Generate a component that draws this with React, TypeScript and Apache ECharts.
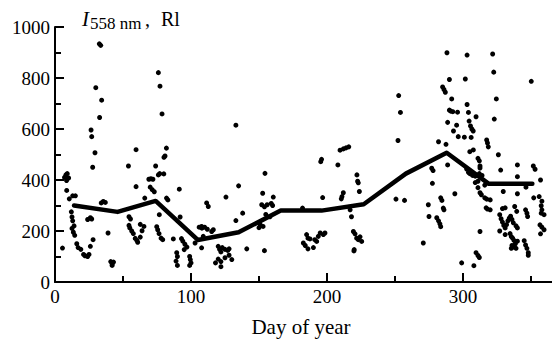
import React, { useEffect, useRef } from "react";
import * as echarts from "echarts";

// Monthly mean curve (day of year, intensity in Rl)
const meanDays = [14, 46, 74, 105, 135, 166, 196, 227, 258, 288, 319, 351];
const meanValues = [300, 275, 318, 165, 195, 280, 280, 305, 425, 507, 385, 385];

// Individual observations [day, value]
const obsWinter: [number, number][] = [
  [5.5, 133], [7, 410], [8, 420], [9, 425], [10, 408], [8.5, 398], [8.6, 359], [10.5, 326], [15, 338], [13, 338],
  [12, 275], [12.5, 255], [13, 240], [14, 220], [12.5, 210], [13.5, 195], [14.5, 183], [16, 150], [17, 135], [19, 128],
  [21, 108], [22, 103], [24, 100], [25, 108], [26, 140], [28, 166], [24, 245], [26, 252], [27, 247], [29.4, 507],
  [27.7, 450], [30, 762], [32.6, 934], [33.6, 928], [34.3, 713], [32.8, 645], [26.5, 596], [27, 570], [35.5, 316], [34, 310],
  [37, 312], [39, 192], [41, 80], [42, 72], [43, 78], [42, 65], [54, 455], [59.6, 519], [59.6, 374], [54.4, 256],
  [55.5, 247], [54.4, 222], [55, 212], [56.4, 200], [57.6, 190], [59, 171], [60.2, 163], [60.8, 156], [62.7, 176], [64, 201],
  [65.4, 218], [62.7, 226],
];
const obsSpring: [number, number][] = [
  [66, 329], [69, 403], [70.5, 405], [72, 403], [70, 372], [71.5, 362], [73, 354], [74, 455], [76, 420], [77, 425],
  [76, 821], [77.2, 768], [78.7, 659], [81.9, 525], [80.9, 494], [80.1, 489], [80, 424], [76.7, 264], [74.8, 217], [75.5, 205],
  [76.5, 190], [78, 172], [79.2, 166], [82, 329], [83, 322], [87, 169], [91.4, 364], [89.5, 115], [90, 100], [89, 82],
  [90, 65], [92, 255], [93, 170], [94, 160], [95.5, 148], [97, 137], [95, 127], [99, 100], [99.5, 88], [100, 75],
  [99, 65], [103, 153], [106, 215], [108, 211], [110, 215], [112, 207], [116.4, 205], [115.2, 198], [107.8, 218], [107.8, 134],
  [109, 179], [111.5, 310], [112.7, 296], [120, 90], [120, 140], [121, 128], [122, 118], [123, 135], [125, 128], [127, 124],
  [128, 130], [122, 80], [118, 75], [122, 60], [125, 95], [128, 105], [130, 88],
];
const obsSummer: [number, number][] = [
  [133, 615], [133, 241], [135, 377], [138, 270], [141, 130], [125.7, 333], [152.7, 348], [154.4, 426], [154, 123], [160.5, 333],
  [152, 303], [154, 295], [156, 303], [159, 308], [160, 300], [155, 265], [158, 256], [151, 224], [150, 213], [153, 218],
  [182, 290], [185, 186], [186, 172], [182.6, 153], [184, 143], [187.5, 169], [191, 166], [192.4, 159], [195, 192], [197.3, 186],
  [198.5, 192], [193.6, 179], [190, 135], [186, 130], [195.4, 472], [196, 481], [196.8, 331], [208, 459], [209.6, 517], [212, 522],
  [214, 526], [216, 530], [212, 350], [211, 335], [210.5, 326], [222, 420], [222.5, 395], [223, 389], [223.8, 355], [217, 283],
  [218, 256], [219.4, 198], [220.6, 189], [221.8, 172], [223, 166], [224.3, 177], [225.5, 159], [220, 127], [219.8, 122],
];
const obsAutumn: [number, number][] = [
  [252.7, 731], [254, 665], [252.2, 555], [250.7, 325], [257, 320], [270.8, 153], [274.5, 303], [275, 257], [277, 446], [278, 437],
  [277.5, 387], [280.7, 252], [282, 240], [283, 228], [283.6, 217], [283.6, 330], [284.5, 320], [285.5, 290], [286, 283], [282, 550],
  [287.5, 540], [285, 765], [286, 755], [287, 744], [288.2, 899], [288.7, 626], [288.7, 459], [290, 794], [290, 674], [291, 670],
  [292.5, 668], [296, 666], [291.7, 718], [293, 592], [294, 346], [295.3, 615], [296.5, 570], [299, 75], [301.7, 796], [303, 890],
  [303, 696], [304, 665], [304.5, 631], [305.5, 612], [306.5, 600], [307.5, 592], [301, 568], [306, 567], [305, 511], [307.6, 518],
  [308, 64], [309.6, 648], [309.6, 115], [311, 104], [312, 96], [311, 485], [312, 475], [312.5, 455], [312.5, 447], [302.7, 443],
  [304, 430], [305, 425], [307, 418], [309, 415], [312, 425], [314, 418], [311, 395], [309, 390], [311, 370], [316, 380],
  [312.5, 350], [313.5, 342], [316, 330], [317.5, 325], [320, 322], [312.5, 198], [317, 291], [318, 286], [320, 283], [317.4, 557],
  [318, 545], [318.6, 530], [321.8, 894], [322.6, 823], [323, 639], [324.5, 718], [326, 499], [327.7, 439], [329.6, 355], [327, 200],
  [331, 186], [327, 264], [328, 248], [329, 235], [330, 222], [331, 212], [332, 225], [333, 240], [334, 250], [335, 258],
  [336, 245], [337, 232], [339, 220], [340, 212], [331, 291], [329, 288], [334.6, 190], [335.5, 178], [336.5, 172], [337.5, 163],
  [338.5, 150], [336, 143], [337, 137], [335.5, 132], [339, 132], [340, 160], [345, 162], [346, 145], [347, 132], [348, 115],
  [348, 105], [338, 296], [339.5, 277], [340, 459], [340, 413], [340, 346], [346.3, 372], [346, 283], [347, 270], [347.5, 257],
  [350.2, 787], [351.7, 455], [353, 442], [352, 330], [356, 335], [358, 317], [357.5, 299], [357, 400], [358, 283], [359.6, 264],
  [357.5, 270], [356.6, 224], [358, 215], [359.6, 205], [357, 189],
];

const xTicks = [0, 100, 200, 300];
const yTicks = [0, 200, 400, 600, 800, 1000];
const xName = "Day of year";

const SERIF = "'Liberation Serif', 'Times New Roman', serif";

export default function App() {
  const ref = useRef<HTMLDivElement>(null);
  useEffect(() => {
    if (!ref.current) return;
    const chart = echarts.init(ref.current, undefined, { renderer: "svg" });
    const axisCommon = {
      type: "value" as const,
      axisLine: { show: true, onZero: false, lineStyle: { color: "#000", width: 2 } },
      axisTick: { show: true, inside: true, length: 9, lineStyle: { color: "#000", width: 2 } },
      minorTick: { show: true, splitNumber: 2, length: 6, lineStyle: { color: "#000", width: 2 } },
      splitLine: { show: false },
      minorSplitLine: { show: false },
    };
    const pts = [...obsWinter, ...obsSpring, ...obsSummer, ...obsAutumn];
    chart.setOption({
      animation: false,
      backgroundColor: "#fff",
      grid: { left: 55, right: -47, top: 27, bottom: 64, containLabel: false, outerBoundsMode: "none" },
      xAxis: {
        ...axisCommon,
        min: xTicks[0],
        max: 400,
        interval: 100,
        axisLabel: {
          color: "#000",
          fontSize: 19,
          fontFamily: SERIF,
          margin: 5,
          showMaxLabel: false,
          formatter: (v: number) => String(v),
        },
      },
      yAxis: {
        ...axisCommon,
        min: yTicks[0],
        max: yTicks[yTicks.length - 1],
        interval: 200,
        axisLabel: {
          color: "#000",
          fontSize: 19,
          fontFamily: SERIF,
          margin: 5,
          formatter: (v: number) => String(v),
        },
      },
      series: [
        {
          type: "scatter",
          data: pts,
          symbol: "circle",
          symbolSize: 5,
          itemStyle: { color: "#000", opacity: 1 },
          silent: true,
        },
        {
          type: "line",
          data: meanDays.map((d, i) => [d, meanValues[i]]),
          showSymbol: false,
          symbol: "none",
          lineStyle: { color: "#000", width: 4.5, join: "round", cap: "round" },
          silent: true,
        },
      ],
      graphic: [
        {
          type: "text",
          x: 82,
          y: 19,
          style: { text: "I", font: `italic 21px ${SERIF}`, fill: "#000", verticalAlign: "middle" },
        },
        {
          type: "text",
          x: 90,
          y: 23,
          style: { text: "558 nm", font: `17px ${SERIF}`, fill: "#000", verticalAlign: "middle" },
        },
        {
          type: "text",
          x: 145,
          y: 19,
          style: { text: ",", font: `20px ${SERIF}`, fill: "#000", verticalAlign: "middle" },
        },
        {
          type: "text",
          x: 161,
          y: 19,
          style: { text: "Rl", font: `20px ${SERIF}`, fill: "#000", verticalAlign: "middle" },
        },
        {
          type: "text",
          x: 301,
          y: 327,
          style: { text: xName, font: `21px ${SERIF}`, fill: "#000", align: "center", verticalAlign: "middle" },
        },
      ],
    });
    return () => chart.dispose();
  }, []);
  return (
    <div
      ref={ref}
      style={{ position: "fixed", left: 0, top: 0, width: 552, height: 346, background: "#fff" }}
    />
  );
}
